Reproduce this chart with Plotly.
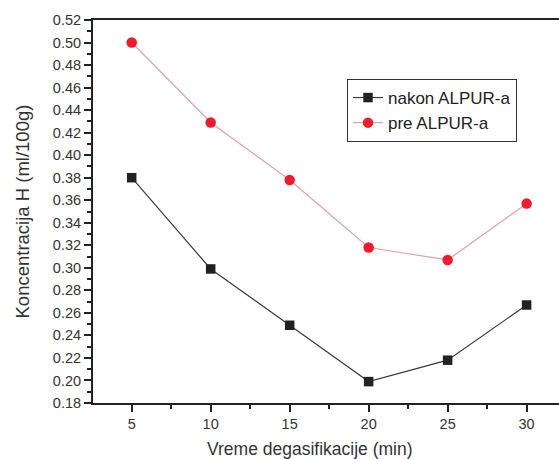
import plotly.graph_objects as go

time_min = [5, 10, 15, 20, 25, 30]
nakon = [0.380, 0.299, 0.249, 0.199, 0.218, 0.267]
pre = [0.500, 0.429, 0.378, 0.318, 0.307, 0.357]

W, H = 559, 459
L, R, T, B = 93, 0, 20, 56
pw, ph = W - L - R, H - T - B

fig = go.Figure()
fig.add_trace(go.Scatter(
    x=time_min, y=nakon, mode="lines+markers", name="nakon ALPUR-a",
    line=dict(color="#3a3a3a", width=1.2),
    marker=dict(symbol="square", size=9.5, color="#222222"),
))
fig.add_trace(go.Scatter(
    x=time_min, y=pre, mode="lines+markers", name="pre ALPUR-a",
    line=dict(color="#e0a0a8", width=1.2),
    marker=dict(symbol="circle", size=10.5, color="#ec1c2c"),
))

font = "Liberation Sans, Arial, sans-serif"
axis_common = dict(
    showline=True, linecolor="#222222", linewidth=2,
    ticks="outside", ticklen=7, tickwidth=1.5, tickcolor="#222222",
    showgrid=False, zeroline=False,
    tickfont=dict(family=font, size=14.5, color="#333333"),
)
fig.update_xaxes(range=[2.55, 32.05], tick0=5, dtick=5, mirror=True,
                 minor=dict(dtick=2.5, ticklen=4, ticks="outside", tickcolor="#222222"),
                 **axis_common)
fig.update_yaxes(range=[0.18, 0.52], tick0=0.18, dtick=0.02, tickformat=".2f", mirror=False,
                 minor=dict(dtick=0.01, ticklen=4, ticks="outside", tickcolor="#222222"),
                 **axis_common)

fig.add_annotation(text="Vreme degasifikacije (min)", xref="paper", yref="paper",
                   x=(310 - L) / pw, y=(H - B - 449) / ph, xanchor="center", yanchor="middle",
                   showarrow=False, font=dict(family=font, size=17.5, color="#333333"))
fig.add_annotation(text="Koncentracija H (ml/100g)", xref="paper", yref="paper",
                   x=(22 - L) / pw, y=0.5, xanchor="center", yanchor="middle", textangle=-90,
                   showarrow=False, font=dict(family=font, size=18.5, color="#333333"))

fig.update_layout(
    width=W, height=H, margin=dict(l=L, r=R, t=T, b=B),
    paper_bgcolor="white", plot_bgcolor="white",
    showlegend=True,
    legend=dict(x=(347 - L) / pw, y=(H - B - 79) / ph, xanchor="left", yanchor="top",
                bordercolor="#333333", borderwidth=1, bgcolor="white",
                font=dict(family=font, size=17, color="#222222"),
                tracegroupgap=0, itemwidth=30),
)
fig.write_html("out.html", config={"displayModeBar": False},
               post_script="document.body.style.margin='0';document.body.style.overflow='hidden';")
